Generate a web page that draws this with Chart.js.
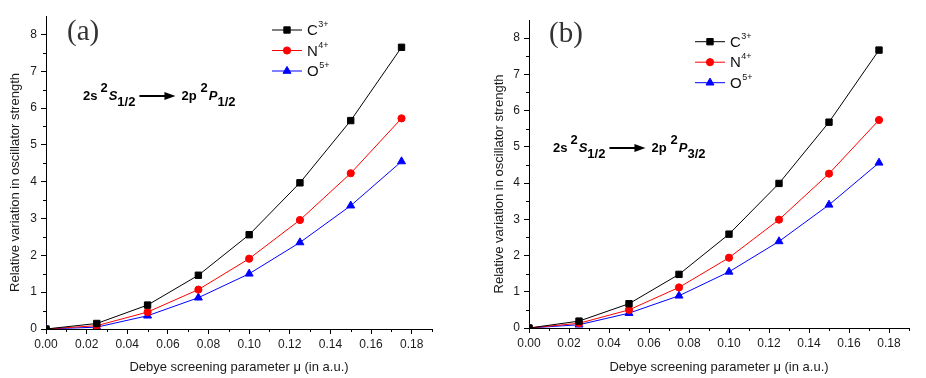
<!DOCTYPE html>
<html>
<head>
<meta charset="utf-8">
<script src="https://cdn.jsdelivr.net/npm/chart.js@4/dist/chart.umd.min.js"></script>
<style>
  body { margin: 0; background: #fff; }
  #wrap { position: relative; width: 926px; height: 378px; }
  canvas { position: absolute; top: 0; }
  #chartA { left: 0; }
  #chartB { left: 466px; }
</style>
</head>
<body>
<div id="wrap">
  <canvas id="chartA" width="466" height="378"></canvas>
  <canvas id="chartB" width="460" height="378"></canvas>
</div>
<script>
// screening parameter values (a.u.)
const mu = [0, 0.025, 0.05, 0.075, 0.1, 0.125, 0.15, 0.175];
const ions = ["C", "N", "O"];
const charges = ["3+", "4+", "5+"];

// panel (a): 2s 2S1/2 -> 2p 2P1/2
const cA = [0, 0.15, 0.65, 1.46, 2.56, 3.97, 5.66, 7.65];
const nA = [0, 0.09, 0.46, 1.07, 1.91, 2.96, 4.23, 5.72];
const oA = [0, 0.05, 0.36, 0.85, 1.50, 2.35, 3.35, 4.55];

// panel (b): 2s 2S1/2 -> 2p 2P3/2
const cB = [0, 0.19, 0.67, 1.48, 2.59, 3.99, 5.68, 7.67];
const nB = [0, 0.13, 0.50, 1.12, 1.94, 2.99, 4.26, 5.74];
const oB = [0, 0.09, 0.41, 0.89, 1.55, 2.39, 3.40, 4.56];

const yTitle = "Relative variation in oscillator strength";

const colors = ["#000000", "#ff0000", "#0000ff"];
const markers = ["rect", "circle", "triangle"];
const radii = [4.5, 3.6, 4.6];

Chart.defaults.font.family = "'Liberation Sans', Arial, sans-serif";
Chart.defaults.color = "#1a1a1a";

function drawMarker(ctx, i, x, y) {
  ctx.fillStyle = colors[i];
  ctx.strokeStyle = colors[i];
  ctx.lineWidth = 1;
  Chart.helpers.drawPoint(ctx, { pointStyle: markers[i], radius: radii[i], rotation: 0, borderWidth: 1 }, x, y);
}

// minor ticks, y title, legend and the text labels inside each panel
const panelText = {
  id: "panelText",
  afterDraw(chart, args, opts) {
    const ctx = chart.ctx;
    const xs = chart.scales.x, ys = chart.scales.y;
    ctx.save();
    ctx.strokeStyle = "#000";
    ctx.lineWidth = 1;
    ctx.beginPath();
    for (let v = 0.01; v < xs.max; v += 0.02) {
      const px = Math.round(xs.getPixelForValue(v)) + 0.5;
      ctx.moveTo(px, xs.top); ctx.lineTo(px, xs.top + 3);
    }
    for (let v = 0.5; v < ys.max; v += 1) {
      const py = Math.round(ys.getPixelForValue(v)) + 0.5;
      ctx.moveTo(ys.right, py); ctx.lineTo(ys.right - 3, py);
    }
    ctx.stroke();

    // y axis title, a bit below the middle of the axis as in the original
    ctx.save();
    ctx.translate(opts.ytX, opts.ytY);
    ctx.rotate(-Math.PI / 2);
    ctx.fillStyle = "#1a1a1a";
    ctx.font = "13px 'Liberation Sans', Arial";
    ctx.textAlign = "center";
    ctx.textBaseline = "middle";
    ctx.fillText(yTitle, 0, 0);
    ctx.restore();

    // legend
    chart.data.datasets.forEach((ds, i) => {
      const y = opts.legY + i * 20.5;
      ctx.strokeStyle = colors[i];
      ctx.beginPath();
      ctx.moveTo(opts.legX, y); ctx.lineTo(opts.legX + 30, y);
      ctx.stroke();
      drawMarker(ctx, i, opts.legX + 15, y);
      ctx.fillStyle = "#111";
      ctx.textBaseline = "alphabetic";
      ctx.textAlign = "left";
      ctx.font = "15px 'Liberation Sans', Arial";
      ctx.fillText(ions[i], opts.legX + 35, y + 5);
      const w = ctx.measureText(ions[i]).width;
      ctx.font = "9px 'Liberation Sans', Arial";
      ctx.fillText(charges[i], opts.legX + 35 + w + 0.5, y - 3);
    });

    // panel label
    ctx.fillStyle = "#333";
    ctx.font = "29px 'Liberation Serif', 'Times New Roman', serif";
    ctx.fillText(opts.label, opts.labX, opts.labY);

    // transition
    const bold = "bold 13px 'Liberation Sans', Arial";
    const ital = "italic bold 13px 'Liberation Sans', Arial";
    const pieces = [
      { t: "2s", f: bold },
      { t: "2", f: bold, gap: 3, dy: -8 },
      { t: "S", f: ital, gap: 1 },
      { t: "1/2", f: bold, dy: 6 },
      { arrow: 36, gap: 4 },
      { t: "2p", f: bold, gap: 6 },
      { t: "2", f: bold, gap: 4, dy: -8 },
      { t: "P", f: ital, gap: 1 },
      { t: opts.finalJ, f: bold, dy: 6 }
    ];
    let x = opts.trX;
    const base = opts.trY;
    ctx.fillStyle = "#000";
    ctx.strokeStyle = "#000";
    for (const p of pieces) {
      x += p.gap || 0;
      if (p.arrow) {
        const ay = base - 4;
        ctx.lineWidth = 2;
        ctx.beginPath();
        ctx.moveTo(x, ay); ctx.lineTo(x + p.arrow - 8, ay);
        ctx.stroke();
        ctx.beginPath();
        ctx.moveTo(x + p.arrow, ay);
        ctx.lineTo(x + p.arrow - 11, ay - 4);
        ctx.lineTo(x + p.arrow - 11, ay + 4);
        ctx.closePath();
        ctx.fill();
        x += p.arrow;
        continue;
      }
      ctx.font = p.f;
      ctx.fillText(p.t, x, base + (p.dy || 0));
      x += ctx.measureText(p.t).width;
    }
    ctx.restore();
  }
};

function makeChart(id, series, pad, yWidth, xHeight, text) {
  return new Chart(document.getElementById(id), {
    type: "line",
    data: {
      datasets: series.map((vals, i) => ({
        label: ions[i] + charges[i],
        data: mu.map((m, k) => ({ x: m, y: vals[k] })),
        borderColor: colors[i],
        backgroundColor: colors[i],
        pointBackgroundColor: colors[i],
        pointBorderColor: colors[i],
        pointStyle: markers[i],
        pointRadius: radii[i],
        pointBorderWidth: 1,
        borderWidth: 1,
        tension: 0
      }))
    },
    options: {
      responsive: false,
      animation: false,
      layout: { padding: pad },
      plugins: {
        legend: { display: false },
        tooltip: { enabled: false },
        panelText: text
      },
      scales: {
        x: {
          type: "linear",
          min: 0,
          max: 0.19,
          afterFit: s => { s.height = xHeight; },
          border: { display: true, color: "#000", width: 1 },
          grid: { drawOnChartArea: false, drawTicks: true, tickLength: 5, color: "#000" },
          ticks: {
            stepSize: 0.02,
            includeBounds: false,
            padding: 3,
            font: { size: 12 },
            maxRotation: 0,
            callback: v => v.toFixed(2)
          },
          title: {
            display: true,
            text: "Debye screening parameter \u03bc (in a.u.)",
            font: { size: 13 },
            padding: { top: 0, bottom: 3 }
          }
        },
        y: {
          min: 0,
          max: 8.5,
          afterFit: s => { s.width = yWidth; },
          border: { display: true, color: "#000", width: 1 },
          grid: { drawOnChartArea: false, drawTicks: true, tickLength: 5, color: "#000" },
          ticks: { stepSize: 1, includeBounds: false, padding: 4, font: { size: 12 } },
          title: { display: false }
        }
      }
    },
    plugins: [panelText]
  });
}

makeChart("chartA", [cA, nA, oA], { left: 0, top: 16, right: 34, bottom: 0 }, 46, 49,
  { ytX: 15, ytY: 182.5, legX: 272, legY: 30, label: "(a)", labX: 67, labY: 40, trX: 83, trY: 100, finalJ: "1/2" });

makeChart("chartB", [cB, nB, oB], { left: 18, top: 20, right: 17, bottom: 0 }, 45, 50,
  { ytX: 33.3, ytY: 184, legX: 229, legY: 41.7, label: "(b)", labX: 83, labY: 42, trX: 87, trY: 152, finalJ: "3/2" });
</script>
</body>
</html>
